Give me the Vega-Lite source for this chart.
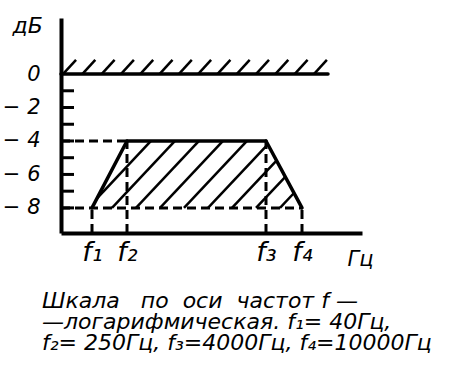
{
  "$schema": "https://vega.github.io/schema/vega-lite/v6.json",
  "width": 301,
  "height": 215,
  "autosize": {"type": "none"},
  "padding": {"left": 61, "top": 18, "right": 107, "bottom": 143},
  "background": "white",
  "config": {
    "view": {"stroke": null},
    "font": "DejaVu Sans",
    "axis": {"labelColor": "black", "titleColor": "black", "domainColor": "black", "labelFontStyle": "italic", "titleFontStyle": "italic", "titleFontWeight": "normal"}
  },
  "title": {
    "text": ["Шкала\u00a0\u00a0\u00a0по\u00a0\u00a0оси\u00a0\u00a0частот\u00a0f\u00a0—", "—логарифмическая. f₁= 40Гц,", "f₂= 250Гц, f₃=4000Гц, f₄=10000Гц"],
    "orient": "bottom",
    "anchor": "start",
    "frame": "group",
    "align": "left",
    "dx": -19,
    "offset": 22,
    "fontSize": 22,
    "fontStyle": "italic",
    "fontWeight": "normal",
    "lineHeight": 21,
    "color": "black"
  },
  "encoding": {
    "x": {
      "field": "x", "type": "quantitative",
      "scale": {"type": "log", "domain": [10, 40, 250, 4000, 10000, 40000], "range": [0, 31, 66, 205, 241, 301], "nice": false},
      "axis": {
        "title": "Гц", "titleX": 286, "titleY": 32, "titleAlign": "left", "titleBaseline": "alphabetic", "titleFontSize": 21,
        "values": [40, 250, 4000, 10000],
        "labelExpr": "datum.value == 40 ? 'f₁' : datum.value == 250 ? 'f₂' : datum.value == 4000 ? 'f₃' : 'f₄'",
        "labelFontSize": 27, "labelPadding": 6, "ticks": false, "grid": false, "domainWidth": 4
      }
    },
    "y": {
      "field": "y", "type": "quantitative",
      "scale": {"domain": [-9.5, 3.35], "nice": false, "zero": false},
      "axis": {
        "title": "дБ", "titleAngle": 0, "titleX": -49, "titleY": 14, "titleAlign": "left", "titleBaseline": "alphabetic", "titleFontSize": 22,
        "values": [0, -2, -4, -6, -8],
        "labelExpr": "datum.value == 0 ? '0' : '− ' + abs(datum.value)",
        "labelFontSize": 21, "labelPadding": 21, "ticks": false, "grid": false, "domainWidth": 4
      }
    },
    "x2": {"field": "x2"},
    "y2": {"field": "y2"}
  },
  "layer": [
    {
      "data": {"values": [
        {"part": "граница 0 дБ", "x": 10, "y": 0, "x2": 18235, "y2": 0},
        {"part": "f1-f2", "x": 40, "y": -8, "x2": 250, "y2": -4},
        {"part": "f2-f3", "x": 250, "y": -4, "x2": 4000, "y2": -4},
        {"part": "f3-f4", "x": 4000, "y": -4, "x2": 10000, "y2": -8}
      ]},
      "mark": {"type": "rule", "color": "black", "strokeWidth": 3.5, "strokeCap": "round"}
    },
    {
      "data": {"values": [
        {"part": "-4 дБ", "x": 10, "y": -4, "x2": 250, "y2": -4},
        {"part": "-8 дБ", "x": 10, "y": -8, "x2": 10000, "y2": -8},
        {"part": "f1", "x": 40, "y": -9.5, "x2": 40, "y2": -8},
        {"part": "f2", "x": 250, "y": -9.5, "x2": 250, "y2": -4},
        {"part": "f3", "x": 4000, "y": -9.5, "x2": 4000, "y2": -4},
        {"part": "f4", "x": 10000, "y": -9.5, "x2": 10000, "y2": -8}
      ]},
      "mark": {"type": "rule", "color": "black", "strokeWidth": 3, "strokeDash": [9, 5]}
    },
    {
      "data": {"values": [
        {"x": 10.9, "y": 0, "x2": 19.6, "y2": 0.85},
        {"x": 25.9, "y": 0, "x2": 47.5, "y2": 0.85},
        {"x": 66.1, "y": 0, "x2": 130.6, "y2": 0.85},
        {"x": 181.6, "y": 0, "x2": 286.9, "y2": 0.85},
        {"x": 325.3, "y": 0, "x2": 421.6, "y2": 0.85},
        {"x": 478.1, "y": 0, "x2": 619.6, "y2": 0.85},
        {"x": 702.6, "y": 0, "x2": 910.5, "y2": 0.85},
        {"x": 1032, "y": 0, "x2": 1338, "y2": 0.85},
        {"x": 1517, "y": 0, "x2": 1966, "y2": 0.85},
        {"x": 2230, "y": 0, "x2": 2890, "y2": 0.85},
        {"x": 3277, "y": 0, "x2": 4317, "y2": 0.85},
        {"x": 5068, "y": 0, "x2": 7056, "y2": 0.85},
        {"x": 8284, "y": 0, "x2": 11381, "y2": 0.85},
        {"x": 13165, "y": 0, "x2": 17777, "y2": 0.85},
        {"x": 52.0, "y": -7.43, "x2": 403.5, "y2": -4},
        {"x": 114, "y": -8, "x2": 651.3, "y2": -4},
        {"x": 299.2, "y": -8, "x2": 1051, "y2": -4},
        {"x": 482.9, "y": -8, "x2": 1697, "y2": -4},
        {"x": 779.3, "y": -8, "x2": 2738, "y2": -4},
        {"x": 1258, "y": -8, "x2": 4188, "y2": -4.2},
        {"x": 2030, "y": -8, "x2": 5226, "y2": -5.17},
        {"x": 3277, "y": -8, "x2": 6537, "y2": -6.14},
        {"x": 5713, "y": -8, "x2": 8157, "y2": -7.11}
      ]},
      "mark": {"type": "rule", "color": "black", "strokeWidth": 2.5}
    },
    {
      "data": {"values": [
        {"x": 10, "y": -1, "x2": 17.9, "y2": -1},
        {"x": 10, "y": -2, "x2": 17.9, "y2": -2},
        {"x": 10, "y": -3, "x2": 17.9, "y2": -3},
        {"x": 10, "y": -4, "x2": 17.9, "y2": -4},
        {"x": 10, "y": -5, "x2": 17.9, "y2": -5},
        {"x": 10, "y": -6, "x2": 17.9, "y2": -6},
        {"x": 10, "y": -7, "x2": 17.9, "y2": -7},
        {"x": 10, "y": -8, "x2": 17.9, "y2": -8}
      ]},
      "mark": {"type": "rule", "color": "black", "strokeWidth": 3}
    }
  ]
}
